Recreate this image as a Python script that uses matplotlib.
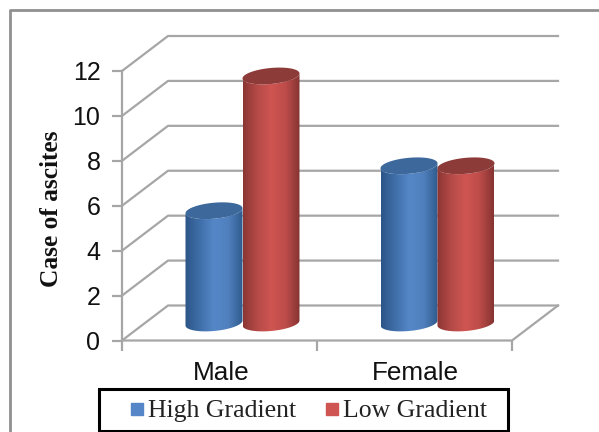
import numpy as np
import matplotlib
matplotlib.use("Agg")
import matplotlib.pyplot as plt
from matplotlib.patches import Polygon, Rectangle
from matplotlib.colors import LinearSegmentedColormap
from matplotlib.lines import Line2D

categories = ["Male", "Female"]
series_names = ["High Gradient", "Low Gradient"]
high_gradient = [5, 7]
low_gradient = [11, 7]
y_ticks = [0, 2, 4, 6, 8, 10, 12]

W, H = 599, 432
fig = plt.figure(figsize=(W / 100, H / 100), dpi=100, facecolor="white")
# front plane of the pseudo-3D box in pixels
L, R, B, T = 122, 512, 340.5, 71
ax = fig.add_axes([L / W, 1 - B / H, (R - L) / W, (B - T) / H])
ax.set_xlim(0, 2)
ax.set_ylim(0, 12)
ax.patch.set_alpha(0)
for s in ax.spines.values():
    s.set_visible(False)

px_x = 2 / (R - L)
px_y = 12 / (B - T)
dx, dy = 46 * px_x, 35 * px_y  # depth offset
GRID = "#a6a6a6"
lw = 1.6

# walls
for v in y_ticks:
    ax.plot([0, dx, 2 + dx], [v, v + dy, v + dy], color=GRID, lw=lw, clip_on=False, zorder=1)
ax.plot([0, 2, 2 + dx], [0, 0, dy], color=GRID, lw=lw, clip_on=False, zorder=1)
ax.plot([0, 0], [0, 12], color=GRID, lw=lw, clip_on=False, zorder=1)

ax.set_xticks([0, 1, 2])
ax.set_xticklabels([])
ax.set_yticks(y_ticks)
ax.set_yticklabels([str(v) for v in y_ticks], family="Liberation Sans", fontsize=18, color="#111111")
ax.tick_params(axis="y", length=7, width=1.6, color=GRID, pad=8.5)
ax.tick_params(axis="x", length=7, width=1.6, color=GRID)
for i, c in enumerate(categories):
    ax.text(i + 0.5 + 1.2 * px_x, -0.93, c, ha="center", va="top", family="Liberation Sans", fontsize=18.8, color="#111111")

fig.text(51.5 / W, 1 - 209 / H, "Case of ascites", rotation=90, ha="center", va="center",
         family="Liberation Serif", fontweight="bold", fontsize=18.3, color="#111111")

# cylinders
a = 28.5 * px_x
tilt, minor = 2.5 * px_y, 8 * px_y
colors = {
    0: dict(side=["#2c5587", "#3f6ea8", "#5587c8", "#5080bd", "#2f5a8c"], top="#3c689c"),
    1: dict(side=["#8a3634", "#b54a47", "#cf5552", "#bd4c49", "#853432"], top="#8c3b39"),
}
t_lo = np.linspace(np.pi, 2 * np.pi, 60)
t_all = np.linspace(0, 2 * np.pi, 120)


def ring(cx, cy, t):
    return cx + a * np.cos(t), cy + tilt * np.cos(t) + minor * np.sin(t)


grad = np.linspace(0, 1, 256)[None, :]
for k, vals in enumerate([high_gradient, low_gradient]):
    cmap = LinearSegmentedColormap.from_list(f"c{k}", colors[k]["side"])
    for i, v in enumerate(vals):
        cx = i + 0.5 + dx / 2 + (2 * k - 1) * a
        base = dy / 2
        xb, yb = ring(cx, base, t_lo)
        xt, yt = ring(cx, base + v, t_lo[::-1])
        verts = np.column_stack([np.r_[xb, xt], np.r_[yb, yt]])
        body = Polygon(verts, closed=True, transform=ax.transData, facecolor="none", edgecolor="none")
        ax.add_patch(body)
        z = 3 + k + i * 0.1
        im = ax.imshow(grad, extent=[cx - a, cx + a, base - 1, base + v + 1], cmap=cmap,
                       aspect="auto", zorder=z, clip_on=True)
        im.set_clip_path(body)
        xe, ye = ring(cx, base + v, t_all)
        ax.fill(xe, ye, color=colors[k]["top"], zorder=z + 0.01, lw=0, clip_on=False)
ax.set_xlim(0, 2)
ax.set_ylim(0, 12)

# legend box, then legend inside
fig.add_artist(Rectangle((98.5 / W, 1 - 431 / H), 409.5 / W, 42 / H, transform=fig.transFigure,
                         facecolor="white", edgecolor="black", lw=2.2, zorder=5))
handles = [Line2D([], [], ls="", marker="s", ms=8.6, color=colors[k]["side"][2]) for k in range(2)]
leg = fig.legend(handles, series_names, ncol=2, loc="center left",
                 bbox_to_anchor=(127 / W, 1 - 411 / H), bbox_transform=fig.transFigure,
                 prop={"family": "Liberation Serif", "size": 18.5}, frameon=False,
                 handlelength=0.78, handletextpad=0.05, columnspacing=1.0,
                 borderpad=0, borderaxespad=0, labelcolor="#222222")
leg.set_zorder(6)

# outer border
fig.add_artist(Line2D([10 / W, 10 / W, 1], [0, 1 - 10 / H, 1 - 10 / H], color="#909090", lw=2))
fig.savefig("out.png", dpi=100)
